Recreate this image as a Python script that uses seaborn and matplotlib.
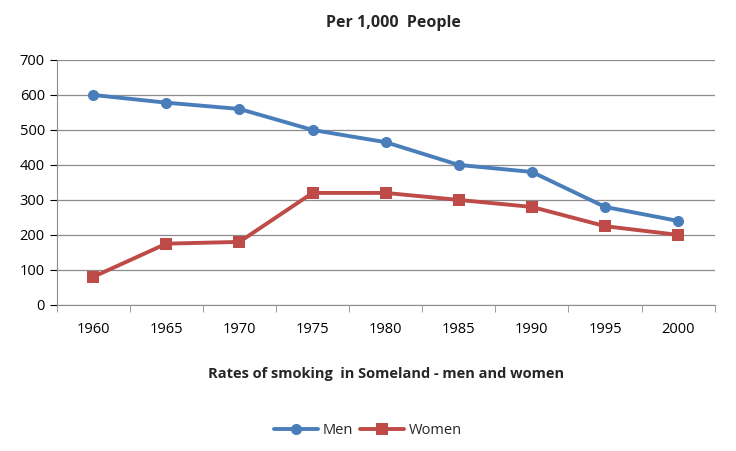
import matplotlib
matplotlib.use('Agg')
import matplotlib.pyplot as plt
import seaborn as sns
import pandas as pd
import numpy as np

years = ['1960', '1965', '1970', '1975', '1980', '1985', '1990', '1995', '2000']
men = [600, 578, 560, 500, 465, 400, 380, 280, 240]
women = [80, 175, 180, 320, 320, 300, 280, 225, 200]

df = pd.DataFrame({'year': years * 2,
                   'value': men + women,
                   'series': ['Men'] * len(years) + ['Women'] * len(years)})

sns.set_style('white')
plt.rcParams['font.family'] = ['Open Sans', 'DejaVu Sans']

fig = plt.figure(figsize=(7.36, 4.51), dpi=100)
ax = fig.add_axes([0.077, 0.324, 0.894, 0.543])

palette = {'Men': '#4A7EBB', 'Women': '#BE4B48'}
sns.lineplot(data=df, x='year', y='value', hue='series', style='series',
             markers={'Men': 'o', 'Women': 's'}, dashes=False, palette=palette,
             linewidth=2.8, markersize=8, markeredgewidth=0, ax=ax, sort=False)

ax.set_xlim(-0.5, len(years) - 0.5)
ax.set_ylim(0, 700)
ax.set_yticks(range(0, 701, 100))
ax.yaxis.grid(True, color='#8c8c8c', linewidth=0.9)
ax.xaxis.grid(False)
for s in ['top', 'right']:
    ax.spines[s].set_visible(False)
for s in ['left', 'bottom']:
    ax.spines[s].set_color('#8c8c8c')
ax.set_xticks(np.arange(-0.5, len(years)), minor=True)
ax.tick_params(axis='x', which='minor', length=5, color='#8c8c8c', bottom=True)
ax.tick_params(axis='x', which='major', length=0, pad=12)
ax.tick_params(axis='y', length=5, color='#8c8c8c', left=True)
ax.tick_params(labelsize=10.5, colors='black')

ax.set_ylabel('')
ax.set_xlabel('Rates of smoking  in Someland - men and women', fontsize=10.5,
              fontweight='bold', labelpad=22)
fig.text(0.535, 0.95, 'Per 1,000  People', ha='center', va='center',
         fontsize=11.5, fontweight='bold')

ax.get_legend().remove()
h, l = ax.get_legend_handles_labels()
fig.legend(h, l, loc='center', bbox_to_anchor=(0.5, 0.045), ncol=2, frameon=False,
           fontsize=10.5, handlelength=3, columnspacing=0.5, handletextpad=0.3)

fig.savefig('out.png', dpi=100)
